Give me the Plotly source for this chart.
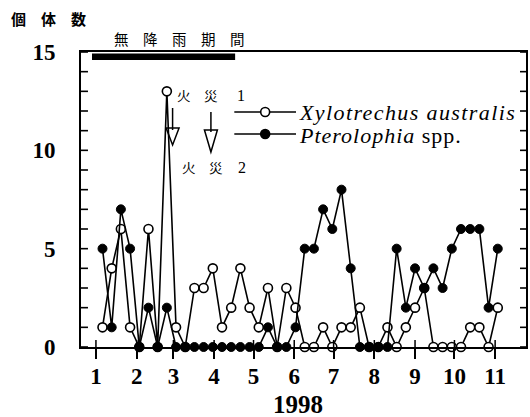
import plotly.graph_objects as go

# ---------------- data ----------------
DATES = [
    "1998-01-06", "1998-01-13", "1998-01-20", "1998-01-27",
    "1998-02-03", "1998-02-10", "1998-02-17", "1998-02-24",
    "1998-03-03", "1998-03-10", "1998-03-17", "1998-03-24", "1998-03-31",
    "1998-04-07", "1998-04-14", "1998-04-21", "1998-04-28",
    "1998-05-05", "1998-05-12", "1998-05-19", "1998-05-26",
    "1998-06-02", "1998-06-09", "1998-06-16", "1998-06-23", "1998-06-30",
    "1998-07-07", "1998-07-14", "1998-07-21", "1998-07-28",
    "1998-08-04", "1998-08-11", "1998-08-18", "1998-08-25",
    "1998-09-01", "1998-09-08", "1998-09-15", "1998-09-22", "1998-09-29",
    "1998-10-06", "1998-10-13", "1998-10-20", "1998-10-27",
    "1998-11-03",
]
XYLOTRECHUS = [1, 4, 6, 1, 0, 6, 0, 13, 1, 0, 3, 3, 4, 1, 2, 4, 2, 1, 3, 0, 3, 2,
               0, 0, 1, 0, 1, 1, 2, 0, 0, 1, 0, 1, 2, 3, 0, 0, 0, 0, 1, 1, 0, 2]
PTEROLOPHIA = [5, 1, 7, 5, 0, 2, 0, 2, 0, 0, 0, 0, 0, 0, 0, 0, 0, 0, 1, 0, 0, 1,
               5, 5, 7, 6, 8, 4, 0, 0, 0, 0, 5, 2, 4, 3, 4, 3, 5, 6, 6, 6, 2, 5]
SERIES_NAMES = ["Xylotrechus australis", "Pterolophia spp."]

MONTH_TICKS = ["1998-01-01", "1998-02-01", "1998-03-01", "1998-04-01",
               "1998-05-01", "1998-06-01", "1998-07-01", "1998-08-01",
               "1998-09-01", "1998-10-01", "1998-11-01"]
MONTH_LABELS = ["1", "2", "3", "4", "5", "6", "7", "8", "9", "10", "11"]
Y_TICKS = [0, 5, 10, 15]
Y_LABELS = ["0", "5", "10", "15"]
Y_MINOR_TICKS = [1, 2, 3, 4, 6, 7, 8, 9, 11, 12, 13, 14]
DRY_PERIOD = ["1997-12-29", "1998-04-17"]
X_RANGE = ["1997-12-20 15:00", "1998-11-24 12:00"]

# ---------------- layout helpers ----------------
W, H = 530, 417
L, R, T, B = 81, 2, 52, 70
PW, PH = W - L - R, H - T - B


def px(x):
    return (x - L) / PW


def py(y):
    return (H - B - y) / PH


SERIF = "Liberation Serif"
CJK = "Noto Sans CJK JP"
TICK_COLOR = "black"

fig = go.Figure()
fig.add_trace(go.Scatter(
    x=DATES, y=XYLOTRECHUS, name=SERIES_NAMES[0], mode="lines+markers",
    line=dict(color="black", width=1.6),
    marker=dict(symbol="circle", size=9, color="white",
                line=dict(color="black", width=1.6)),
    cliponaxis=False,
))
fig.add_trace(go.Scatter(
    x=DATES, y=PTEROLOPHIA, name=SERIES_NAMES[1], mode="lines+markers",
    line=dict(color="black", width=1.6),
    marker=dict(symbol="circle", size=9, color="black",
                line=dict(color="black", width=1)),
    cliponaxis=False,
))

tickfont = dict(family=SERIF, size=23, color="black", weight="bold")

fig.update_layout(
    width=W, height=H,
    margin=dict(l=L, r=R, t=T, b=B, pad=0),
    paper_bgcolor="white", plot_bgcolor="white",
    showlegend=False,
    xaxis=dict(
        type="date", range=X_RANGE,
        tickvals=MONTH_TICKS, ticktext=MONTH_LABELS,
        ticks="outside", ticklen=10, tickwidth=1.5, tickcolor="black",
        ticklabelstandoff=-3,
        showline=True, linewidth=2, linecolor="black", mirror=True,
        showgrid=False, zeroline=False, tickfont=tickfont,
    ),
    yaxis=dict(
        range=[0, 15], tickvals=Y_TICKS, ticktext=Y_LABELS,
        ticks="", ticklabelstandoff=19,
        showline=True, linewidth=2, linecolor="black", mirror=True,
        showgrid=False, zeroline=False, tickfont=tickfont,
    ),
)

shapes = []
# inner tick marks (left and right y axis, inner part of crossing x ticks)
for v in Y_TICKS + Y_MINOR_TICKS:
    shapes.append(dict(type="line", xref="paper", yref="y",
                       x0=0, x1=px(L + 7), y0=v, y1=v,
                       line=dict(color=TICK_COLOR, width=1.6)))
    shapes.append(dict(type="line", xref="paper", yref="y",
                       x0=1, x1=px(W - R - 6), y0=v, y1=v,
                       line=dict(color=TICK_COLOR, width=1.6)))
for m in MONTH_TICKS:
    shapes.append(dict(type="line", xref="x", yref="paper",
                       x0=m, x1=m, y0=0, y1=py(H - B - 7),
                       line=dict(color=TICK_COLOR, width=1.5)))

# dry period bar
shapes.append(dict(type="rect", xref="x", yref="paper",
                   x0=DRY_PERIOD[0], x1=DRY_PERIOD[1], y0=py(60), y1=py(53.5),
                   fillcolor="black", line=dict(width=0)))


def arrow(x, y_top, y_tri, y_tip, half=6.5):
    out = [dict(type="line", xref="paper", yref="paper",
                x0=px(x), x1=px(x), y0=py(y_top), y1=py(y_tri + 2),
                line=dict(color="black", width=1.5))]
    path = "M {a},{b} L {c},{d} L {e},{f} Z".format(
        a=px(x - half), b=py(y_tri), c=px(x + half), d=py(y_tri),
        e=px(x), f=py(y_tip))
    out.append(dict(type="path", xref="paper", yref="paper", path=path,
                    line=dict(color="black", width=1.5),
                    fillcolor="rgba(0,0,0,0)"))
    return out


shapes += arrow(173, 108, 128, 145)
shapes += arrow(211.5, 112, 130, 152)

# manual legend
for yy, fill in [(112, "white"), (134, "black")]:
    shapes.append(dict(type="line", xref="paper", yref="paper",
                       x0=px(235), x1=px(297), y0=py(yy), y1=py(yy),
                       line=dict(color="black", width=1.6)))
    shapes.append(dict(type="circle", xref="paper", yref="paper",
                       x0=px(261.5), x1=px(270.5), y0=py(yy + 4.5), y1=py(yy - 4.5),
                       fillcolor=fill, line=dict(color="black", width=1.6)))

annotations = []


def note(text, x, y, size, family=CJK, weight="normal", xanchor="center", style="normal"):
    annotations.append(dict(
        text=text, xref="paper", yref="paper", x=px(x), y=py(y),
        xanchor=xanchor, yanchor="middle", showarrow=False,
        font=dict(family=family, size=size, color="black", weight=weight, style=style),
    ))


note("個　体　数", 48, 19, 15, weight="bold")
note("無　降　雨　期　間", 180, 38, 14.5)
note("火　災", 198, 95, 13.5)
note("1", 241.5, 95, 16, family=SERIF)
note("火　災", 203, 167, 13.5)
note("2", 242.5, 167, 16, family=SERIF)
note('<span style="letter-spacing:1.4px">' + SERIES_NAMES[0] + '</span>',
     298, 113, 22, family=SERIF, xanchor="left", style="italic")
note('<span style="letter-spacing:1px"><i>Pterolophia</i> spp.</span>',
     298, 135, 22, family=SERIF, xanchor="left")
note("1998", 299, 404, 25, family=SERIF, weight="bold")

fig.update_layout(shapes=shapes, annotations=annotations)

fig.write_html("out.html")
